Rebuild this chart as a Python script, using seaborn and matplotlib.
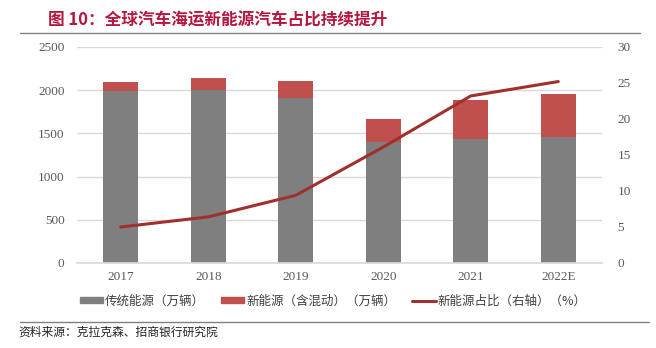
import matplotlib
matplotlib.use("Agg")
import matplotlib.pyplot as plt
import seaborn as sns
import pandas as pd
from matplotlib.lines import Line2D
from matplotlib.patches import Patch

years = ["2017", "2018", "2019", "2020", "2021", "2022E"]
traditional = [1990, 2002, 1910, 1400, 1440, 1458]
new_energy = [105, 139, 196, 267, 447, 498]
share = [5.0, 6.4, 9.4, 16.1, 23.2, 25.2]

left_ticks = [0, 500, 1000, 1500, 2000, 2500]
right_ticks = [0, 5, 10, 15, 20, 25, 30]

title = "图 10：全球汽车海运新能源汽车占比持续提升"
source = "资料来源：克拉克森、招商银行研究院"
legend_labels = ["传统能源（万辆）", "新能源（含混动）（万辆）", "新能源占比（右轴）（%）"]

sns.set_theme(style="white")
plt.rcParams['font.family'] = ['Noto Sans CJK SC', 'DejaVu Sans']

df = pd.DataFrame({"year": years, "trad": traditional, "new": new_energy,
                   "total": [a + b for a, b in zip(traditional, new_energy)],
                   "share": share})

c_grey = "#7F7F7F"
c_red = "#C0504D"
c_line = "#A0302E"

fig = plt.figure(figsize=(6.56, 3.48), dpi=100)
ax = fig.add_axes([0.1174, 0.2443, 0.8003, 0.6207])

sns.barplot(data=df, x="year", y="total", color=c_red, width=0.4, ax=ax,
            saturation=1, order=years, linewidth=0)
sns.barplot(data=df, x="year", y="trad", color=c_grey, width=0.4, ax=ax,
            saturation=1, order=years, linewidth=0)
ax.set_ylim(0, 2500)
ax.set_yticks(left_ticks)
ax.set_xlim(-0.5, 5.5)
ax.yaxis.grid(True, color="#D9D9D9", linewidth=1)
ax.set_axisbelow(True)
for s in ax.spines.values():
    s.set_visible(False)
ax.spines["bottom"].set_visible(True)
ax.spines["bottom"].set_color("#D9D9D9")
ax.set_xlabel("")
ax.set_ylabel("")
ax.tick_params(axis="both", length=0, labelsize=9.5, colors="#595959", pad=9)
ax.tick_params(axis="x", pad=6)
for lab in ax.get_xticklabels() + ax.get_yticklabels():
    lab.set_fontfamily("Liberation Serif")

ax2 = ax.twinx()
sns.lineplot(x=list(range(len(years))), y=share, color=c_line, linewidth=2.2,
             ax=ax2, sort=False)
ax2.set_ylim(0, 30)
ax2.set_yticks(right_ticks)
for s in ax2.spines.values():
    s.set_visible(False)
ax2.tick_params(axis="y", length=0, labelsize=9.5, colors="#595959", pad=11)
for lab in ax2.get_yticklabels():
    lab.set_fontfamily("Liberation Serif")
ax2.set_ylabel("")
ax2.grid(False)

handles = [Patch(color=c_grey), Patch(color=c_red),
           Line2D([0], [0], color=c_line, linewidth=2.2)]
fig.legend(handles, legend_labels, loc="center", bbox_to_anchor=(0.508, 0.135),
           ncol=3, frameon=False, fontsize=9, handlelength=1.85, handleheight=0.4,
           handletextpad=0.15, columnspacing=1.3, labelcolor="#404040")

fig.text(0.073, 0.94, title, color="#B5173F", fontsize=12, fontweight="bold",
         va="center", ha="left")
fig.add_artist(Line2D([0.03, 0.975], [0.905, 0.905], color="#808080",
                      linewidth=1, transform=fig.transFigure))
fig.add_artist(Line2D([0.03, 0.99], [0.075, 0.075], color="#808080",
                      linewidth=1, transform=fig.transFigure))
fig.text(0.028, 0.047, source, color="#222222", fontsize=8.5, va="center",
         ha="left")

fig.savefig("out.png", dpi=100)
